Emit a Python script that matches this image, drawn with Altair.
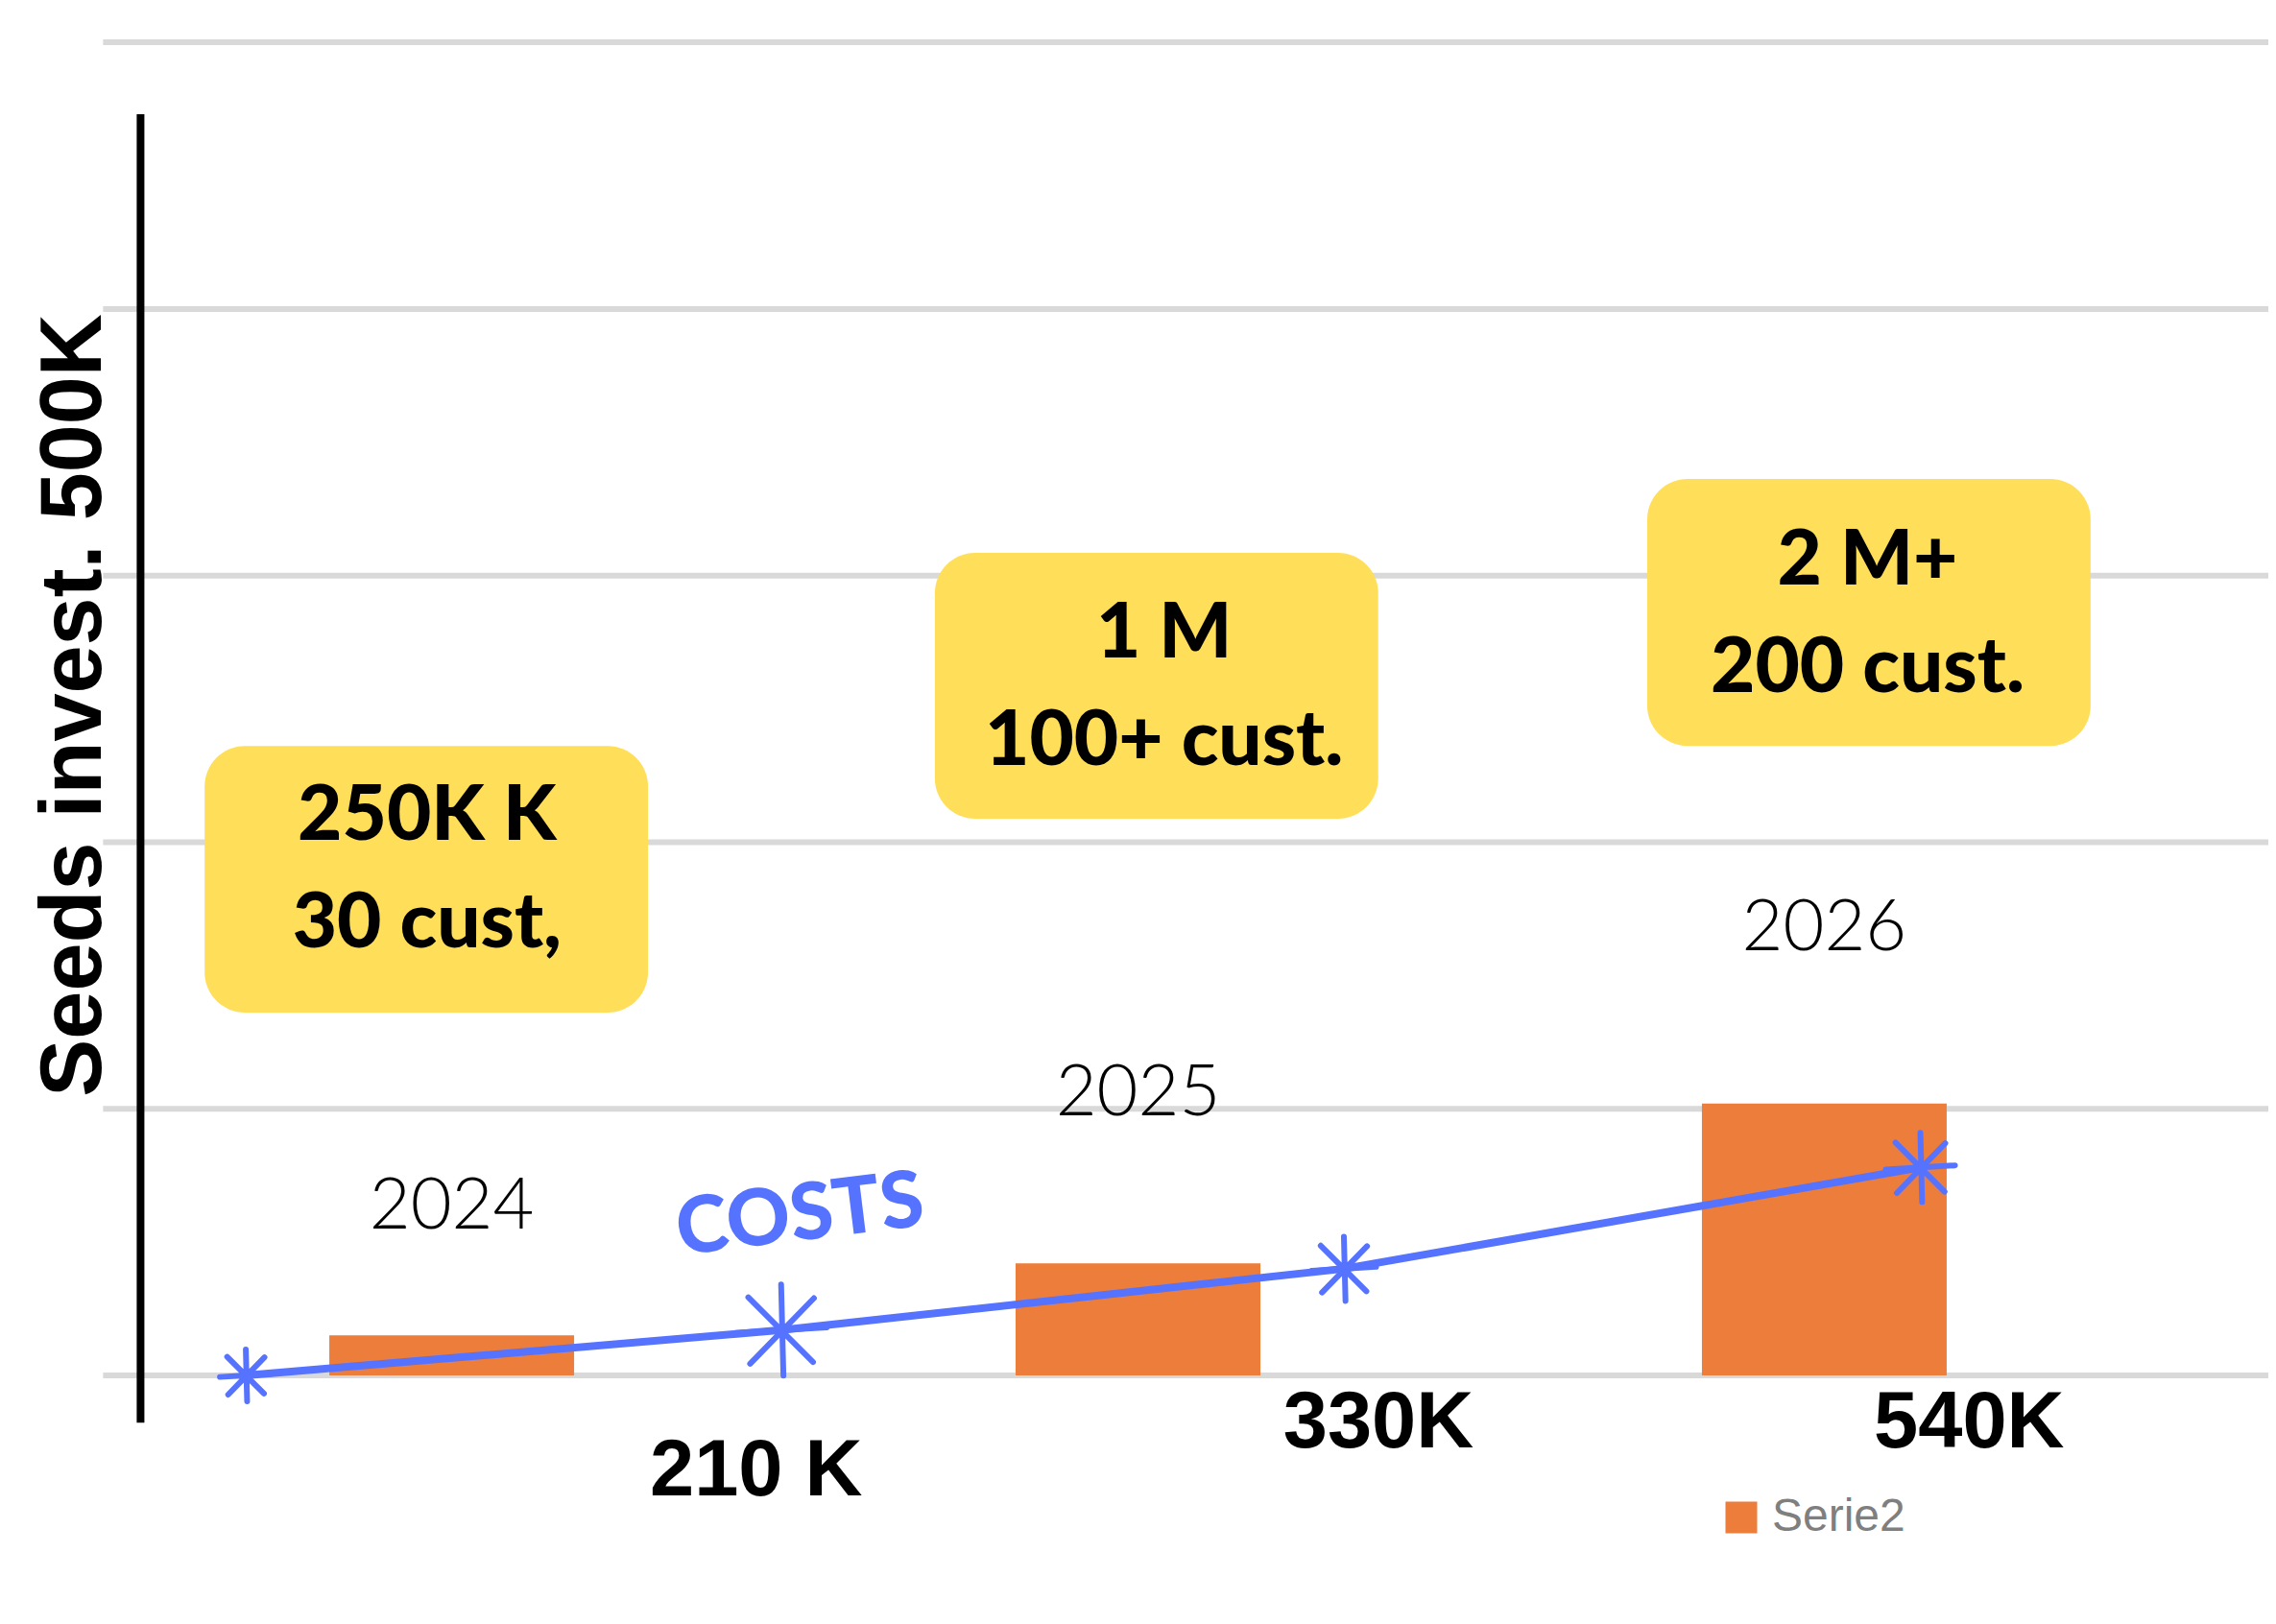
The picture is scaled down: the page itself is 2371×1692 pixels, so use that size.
import altair as alt
import pandas as pd

# ---------------- data ----------------
years = [2024, 2025, 2026]
serie2 = [15, 42, 102]                      # orange bars ("Serie2")
cost_x = [2023.70, 2024.48, 2025.30, 2026.14]  # hand-drawn cost line points
cost_y = [0, 17, 40, 78]
cost_labels = ["210 K", "330K", "540K"]
year_labels = ["2024", "2025", "2026"]
box_texts = ["250K K\n30 cust,", "1 M\n100+ cust.", "2 M+\n200 cust."]
grid_values = [0, 100, 200, 300, 400, 500]
title_text = "Seeds invest. 500K"
series_name = "Serie2"

# ---------------- layout / style ----------------
W, H = 2355, 1660
XS = alt.Scale(domain=[2023.36, 2026.64], nice=False, zero=False)
YS = alt.Scale(domain=[-84.6, 513], nice=False, zero=False)
ORANGE = "#ED7D3A"
BLUE = "#5573FF"
YELLOW = "#FFDE59"
GRID = "#D9D9D9"

def X(f):
    return alt.X(f, type="quantitative", scale=XS, axis=None)

def Y(f):
    return alt.Y(f, type="quantitative", scale=YS, axis=None)

# gridlines
grid_df = pd.DataFrame({"y": grid_values, "x0": 2023.492, "x1": 2026.66})
grid = alt.Chart(grid_df).mark_rule(color=GRID, strokeWidth=6).encode(
    x=X("x0"), x2="x1", y=Y("y"))

# black vertical axis line
axis_df = pd.DataFrame({"x": [2023.5466], "y0": [473.0], "y1": [-17.7]})
axis_line = alt.Chart(axis_df).mark_rule(color="black", strokeWidth=8).encode(
    x=X("x"), y=Y("y0"), y2="y1")

# bars
bar_df = pd.DataFrame({"year": years, "value": serie2, "series": series_name, "base": 0})
bars = alt.Chart(bar_df).mark_bar(size=255).encode(
    x=X("year"), y=Y("value"), y2="base",
    color=alt.Color("series:N",
                    scale=alt.Scale(domain=[series_name], range=[ORANGE]),
                    legend=alt.Legend(orient="none", legendX=1782, legendY=1549,
                                      title=None, symbolType="square",
                                      symbolSize=1089, symbolStrokeWidth=0,
                                      labelFont="Liberation Sans", labelFontSize=48,
                                      labelColor="#7F7F7F", labelOffset=8,
                                      labelBaseline="middle", padding=0)))

# yellow boxes
box_df = pd.DataFrame({
    "x0": [2023.640, 2024.704, 2025.742],
    "x1": [2024.286, 2025.350, 2026.388],
    "y0": [236.1, 308.5, 336.2],
    "y1": [136.1, 208.8, 236.1],
    "tx": [2023.964, 2025.038, 2026.063],
    "ty": [200.9, 269.3, 296.6],
    "text": box_texts,
})
boxes = alt.Chart(box_df).mark_rect(cornerRadius=42, color=YELLOW).encode(
    x=X("x0"), x2="x1", y=Y("y0"), y2="y1")
box_text = alt.Chart(box_df).mark_text(
    lineBreak="\n", lineHeight=112, font="Lato", fontWeight=900, fontSize=80,
    align="center", baseline="alphabetic", color="black").encode(
    x=X("tx"), y=Y("ty"), text="text:N")

# year labels
year_df = pd.DataFrame({"year": years, "label": year_labels, "ty": [55.0, 97.5, 159.5]})
year_text = alt.Chart(year_df).mark_text(
    font="Lato", fontWeight=300, fontSize=74, align="center",
    baseline="alphabetic", color="black").encode(
    x=X("year"), y=Y("ty"), text="label:N")

# cost line + stars
cost_df = pd.DataFrame({"x": cost_x, "y": cost_y, "s": [2916, 9025, 4489, 5184]})
cost_line = alt.Chart(cost_df).mark_line(color=BLUE, strokeWidth=8, strokeCap="round").encode(
    x=X("x"), y=Y("y"))
STAR = "M0,-1L0.05,1M-0.72,-0.72L0.7,0.7M-0.68,0.74L0.72,-0.7M-1,0.06L1,-0.06"
stars = alt.Chart(cost_df).mark_point(
    shape=STAR, filled=False, color=BLUE, strokeWidth=6, opacity=1,
    strokeCap="round").encode(
    x=X("x"), y=Y("y"), size=alt.Size("s:Q", scale=None, legend=None))
star_core = alt.Chart(cost_df).mark_point(
    shape="circle", filled=True, color=BLUE, size=160, opacity=1).encode(
    x=X("x"), y=Y("y"))

costs_df = pd.DataFrame({"x": [2024.5076], "y": [59.7], "t": ["COSTS"]})
costs_text = alt.Chart(costs_df).mark_text(
    font="Lato", fontWeight=900, fontSize=82, color=BLUE, angle=353,
    align="center", baseline="middle").encode(
    x=X("x"), y=Y("y"), text="t:N")

# value labels below
val_df = pd.DataFrame({"x": [2024.4436, 2025.3503, 2026.211],
                       "y": [-45.0, -27.0, -27.0], "t": cost_labels})
val_text = alt.Chart(val_df).mark_text(
    font="Liberation Sans", fontWeight="bold", fontSize=83, color="black",
    align="center", baseline="alphabetic").encode(
    x=X("x"), y=Y("y"), text="t:N")

# rotated title
title_df = pd.DataFrame({"x": [2023.4881], "y": [251.3], "t": [title_text]})
title = alt.Chart(title_df).mark_text(
    font="Liberation Sans", fontWeight="bold", fontSize=90, color="black",
    angle=270, align="center", baseline="alphabetic").encode(
    x=X("x"), y=Y("y"), text="t:N")

chart = alt.layer(
    grid, bars, axis_line, boxes, box_text, year_text,
    cost_line, stars, star_core, costs_text, val_text, title
).properties(
    width=W, height=H, padding=0,
    autosize=alt.AutoSizeParams(type="none"),
    background="white",
).configure_view(stroke=None)

chart.save("out.html", embed_options={"renderer": "svg", "actions": False})
